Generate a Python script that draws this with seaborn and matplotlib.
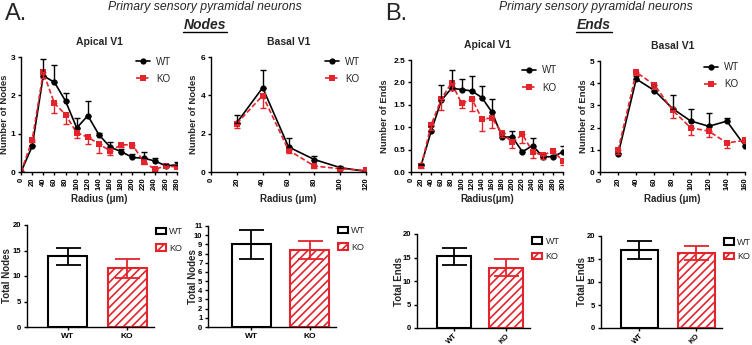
import numpy as np
import pandas as pd
import matplotlib
matplotlib.use('Agg')
import matplotlib.pyplot as plt
import matplotlib.transforms as mtransforms
import seaborn as sns
from matplotlib.patches import Patch
from matplotlib.lines import Line2D

sns.set_style('ticks')
plt.rcParams['font.family'] = ['Liberation Sans', 'DejaVu Sans']
plt.rcParams['hatch.linewidth'] = 1.2

RED = '#e3242b'
W, H = 752, 345

# ---- data ----
# Nodes, apical
nodes_ap_r = [0, 20, 40, 60, 80, 100, 120, 140, 160, 180, 200, 220, 240, 260, 280]
nodes_ap_wt = [0, 0.67, 2.51, 2.34, 1.85, 1.15, 1.47, 0.97, 0.65, 0.53, 0.38, 0.36, 0.29, 0.16, 0.19]
nodes_ap_wt_err = [0, 0.03, 0.45, 0.44, 0.22, 0.27, 0.38, 0.06, 0.14, 0.08, 0.08, 0.16, 0.08, 0.05, 0.08]
nodes_ap_ko = [0, 0.83, 2.60, 1.79, 1.50, 1.02, 0.91, 0.73, 0.55, 0.71, 0.71, 0.27, 0.07, 0.16, 0.13]
nodes_ap_ko_err = [0, 0.05, 0.15, 0.26, 0.25, 0.12, 0.19, 0.23, 0.11, 0.06, 0.08, 0.06, 0.03, 0.03, 0.03]

# Nodes, basal
nodes_ba_r = [20, 40, 60, 80, 100, 120]
nodes_ba_wt = [2.57, 4.40, 1.31, 0.65, 0.23, 0.03]
nodes_ba_wt_err = [0.43, 0.90, 0.44, 0.20, 0.08, 0.03]
nodes_ba_ko = [2.53, 3.99, 1.14, 0.31, 0.17, 0.08]
nodes_ba_ko_err = [0.23, 0.67, 0.17, 0.08, 0.05, 0.05]

# Ends, apical
ends_ap_r = [20, 40, 60, 80, 100, 120, 140, 160, 180, 200, 220, 240, 260, 280, 300]
ends_ap_wt = [0.15, 0.92, 1.60, 1.87, 1.84, 1.81, 1.66, 1.33, 0.78, 0.78, 0.45, 0.59, 0.34, 0.34, 0.45]
ends_ap_wt_err = [0.03, 0.11, 0.34, 0.41, 0.23, 0.33, 0.26, 0.31, 0.10, 0.13, 0.05, 0.16, 0.05, 0.05, 0.12]
ends_ap_ko = [0.13, 1.06, 1.63, 1.99, 1.53, 1.63, 1.19, 1.20, 0.86, 0.66, 0.84, 0.45, 0.37, 0.47, 0.25]
ends_ap_ko_err = [0.03, 0.13, 0.25, 0.15, 0.11, 0.27, 0.28, 0.21, 0.08, 0.12, 0.19, 0.13, 0.07, 0.05, 0.09]

# Ends, basal
ends_ba_r = [20, 40, 60, 80, 100, 120, 140, 160]
ends_ba_wt = [0.80, 4.19, 3.67, 2.86, 2.30, 2.06, 2.29, 1.17]
ends_ba_wt_err = [0.05, 0.13, 0.25, 0.59, 0.52, 0.61, 0.16, 0.13]
ends_ba_ko = [0.98, 4.49, 3.93, 2.79, 1.99, 1.84, 1.31, 1.43]
ends_ba_ko_err = [0.15, 0.12, 0.17, 0.34, 0.33, 0.26, 0.23, 0.13]

# Totals (mean, sem)
groups = ['WT', 'KO']
tot_nodes_ap = [13.9, 11.5]
tot_nodes_ap_err = [1.65, 1.8]
tot_nodes_ba = [9.0, 8.4]
tot_nodes_ba_err = [1.55, 1.0]
tot_ends_ap = [15.25, 12.8]
tot_ends_ap_err = [1.8, 1.8]
tot_ends_ba = [17.0, 16.3]
tot_ends_ba_err = [1.9, 1.5]


def rect(l, t, r, b):
    return [l / W, 1 - b / H, (r - l) / W, (b - t) / H]


def style_axis(ax):
    sns.despine(ax=ax)
    for s in ['left', 'bottom']:
        ax.spines[s].set_linewidth(1.0)
        ax.spines[s].set_color('black')
    ax.tick_params(length=2.5, width=1.0, pad=1.5, colors='black')
    for lab in ax.get_xticklabels() + ax.get_yticklabels():
        lab.set_fontweight('bold')


def place_ylabel(ax, xpx):
    # xpx = right edge of the rotated label, in figure pixels
    tr = mtransforms.blended_transform_factory(fig.transFigure, ax.transAxes)
    ax.yaxis.set_label_coords(xpx / W, 0.5, transform=tr)


def line_panel(rc, r, wt, wt_err, ko, ko_err, xmax, ymax, yticks, title,
               ylabel, xlabel, ylab_x, leg_y, yfmt=None):
    ax = fig.add_axes(rect(*rc))
    df = pd.DataFrame({
        'radius': list(r) * 2,
        'value': list(wt) + list(ko),
        'group': ['WT'] * len(r) + ['KO'] * len(r),
    })
    sns.lineplot(data=df, x='radius', y='value', hue='group', style='group',
                 hue_order=groups, style_order=groups,
                 palette={'WT': 'black', 'KO': RED},
                 markers={'WT': 'o', 'KO': 's'},
                 dashes={'WT': '', 'KO': (3, 1.5)},
                 markersize=4.5, markeredgewidth=0, linewidth=1.2,
                 errorbar=None, ax=ax)
    ax.errorbar(r, wt, yerr=[np.zeros(len(r)), wt_err], fmt='none',
                ecolor='black', elinewidth=1.0, capsize=2.5, capthick=1.0)
    ax.errorbar(r, ko, yerr=[ko_err, np.zeros(len(r))], fmt='none',
                ecolor=RED, elinewidth=1.0, capsize=2.5, capthick=1.0)
    ax.set_xlim(0, xmax)
    ax.set_ylim(0, ymax)
    ax.set_xticks(np.arange(0, xmax + 1, 20))
    ax.set_yticks(yticks)
    if yfmt:
        ax.set_yticklabels([yfmt.format(v) for v in yticks])
    ax.tick_params(axis='x', labelrotation=90, labelsize=5.5)
    ax.tick_params(axis='y', labelsize=6)
    ax.set_title(title, fontsize=7.5, fontweight='bold', pad=9)
    ax.set_ylabel(ylabel, fontsize=6.8, fontweight='bold')
    place_ylabel(ax, ylab_x)
    ax.set_xlabel(xlabel, fontsize=7, fontweight='bold', labelpad=3)
    ax.legend(frameon=False, loc='upper right', bbox_to_anchor=(1.02, leg_y),
              fontsize=7, handlelength=1.5, handletextpad=0.6,
              labelspacing=0.75)
    style_axis(ax)
    return ax


def bar_panel(rc, vals, errs, ymax, yticks, ylabel, rot, xlim, width,
              ylab_x, leg_anchor, leg_space):
    ax = fig.add_axes(rect(*rc))
    df = pd.DataFrame({'group': groups, 'value': vals})
    sns.barplot(data=df, x='group', y='value', hue='group', order=groups,
                hue_order=groups, palette={'WT': 'white', 'KO': 'white'},
                width=width, errorbar=None, legend=False, ax=ax)
    for p, col, hatch in zip(ax.patches, ['black', RED], [None, '////']):
        p.set_facecolor('white')
        p.set_edgecolor(col)
        p.set_linewidth(1.5)
        if hatch:
            p.set_hatch(hatch)
    for i, col in enumerate(['black', RED]):
        ax.errorbar([i], [vals[i]], yerr=[[errs[i]], [errs[i]]], fmt='none',
                    ecolor=col, elinewidth=1.3, capsize=9, capthick=1.3)
    ax.set_xlim(*xlim)
    ax.set_ylim(0, ymax)
    ax.set_yticks(yticks)
    ax.set_xlabel('')
    ax.set_ylabel(ylabel, fontsize=7, fontweight='bold')
    place_ylabel(ax, ylab_x)
    ax.tick_params(axis='y', labelsize=5.5)
    ax.tick_params(axis='x', labelsize=6)
    style_axis(ax)
    if rot:
        ax.tick_params(axis='x', labelsize=5.5, pad=0.5)
        for lab in ax.get_xticklabels():
            lab.set_rotation(rot)
            lab.set_ha('right')
            lab.set_rotation_mode('anchor')
    handles = [Patch(facecolor='white', edgecolor='black', linewidth=1.5),
               Patch(facecolor='white', edgecolor=RED, linewidth=1.5, hatch='////')]
    ax.legend(handles, groups, frameon=False, loc='upper left',
              bbox_to_anchor=leg_anchor, fontsize=6.5, handlelength=1.1,
              handleheight=0.7, handletextpad=0.4, labelspacing=leg_space,
              borderaxespad=0.2)
    return ax


fig = plt.figure(figsize=(W / 100, H / 100), dpi=100)

line_panel((21, 57, 177, 172), nodes_ap_r, nodes_ap_wt, nodes_ap_wt_err,
           nodes_ap_ko, nodes_ap_ko_err, 280, 3, [0, 1, 2, 3],
           'Apical V1', 'Number of Nodes', 'Radius (μm)', 9, 1.08)
line_panel((211, 57, 366, 172), nodes_ba_r, nodes_ba_wt, nodes_ba_wt_err,
           nodes_ba_ko, nodes_ba_ko_err, 120, 6, [0, 2, 4, 6],
           'Basal V1', 'Number of Nodes', 'Radius (μm)', 198, 1.08)
line_panel((411, 60, 563, 172), ends_ap_r, ends_ap_wt, ends_ap_wt_err,
           ends_ap_ko, ends_ap_ko_err, 300, 2.5, [0, 0.5, 1.0, 1.5, 2.0, 2.5],
           'Apical V1', 'Number of Ends', 'Radius(μm)', 389, 1.03, yfmt='{:.1f}')
line_panel((600, 61, 745, 172), ends_ba_r, ends_ba_wt, ends_ba_wt_err,
           ends_ba_ko, ends_ba_ko_err, 160, 5, [0, 1, 2, 3, 4, 5],
           'Basal V1', 'Number of Ends', 'Radius (μm)', 588, 1.07)

bar_panel((27, 225, 154, 327), tot_nodes_ap, tot_nodes_ap_err, 20,
          [0, 5, 10, 15, 20], 'Total Nodes', 0, (-0.68, 1.45), 0.65,
          12, (0.97, 1.03), 0.8)
bar_panel((208, 226, 336, 327), tot_nodes_ba, tot_nodes_ba_err, 11,
          list(range(0, 12)), 'Total Nodes', 0, (-0.74, 1.45), 0.67,
          198, (0.97, 1.05), 0.8)
bar_panel((417, 234, 530, 328), tot_ends_ap, tot_ends_ap_err, 20,
          [0, 5, 10, 15, 20], 'Total Ends', 45, (-0.7, 1.45), 0.65,
          404, (0.97, 1.03), 0.75)
bar_panel((601, 236, 722, 328), tot_ends_ba, tot_ends_ba_err, 20,
          [0, 5, 10, 15, 20], 'Total Ends', 45, (-0.675, 1.45), 0.65,
          587, (0.97, 1.04), 0.6)

# panel letters and headings
fig.text(5 / W, 1 - 14 / H, 'A.', fontsize=17, va='center', ha='left')
fig.text(385 / W, 1 - 14 / H, 'B.', fontsize=17, va='center', ha='left')
fig.text(205 / W, 1 - 7 / H, 'Primary sensory pyramidal neurons',
         fontsize=8.8, style='italic', ha='center', va='center')
fig.text(596 / W, 1 - 7 / H, 'Primary sensory pyramidal neurons',
         fontsize=8.8, style='italic', ha='center', va='center')
fig.text(205 / W, 1 - 25 / H, 'Nodes', fontsize=10, style='italic',
         fontweight='bold', ha='center', va='center')
fig.text(594 / W, 1 - 25 / H, 'Ends', fontsize=10, style='italic',
         fontweight='bold', ha='center', va='center')
fig.add_artist(Line2D([183 / W, 227 / W], [1 - 32 / H, 1 - 32 / H],
                      color='black', linewidth=1.0))
fig.add_artist(Line2D([576 / W, 612 / W], [1 - 32 / H, 1 - 32 / H],
                      color='black', linewidth=1.0))

fig.savefig('out.png', dpi=100)
